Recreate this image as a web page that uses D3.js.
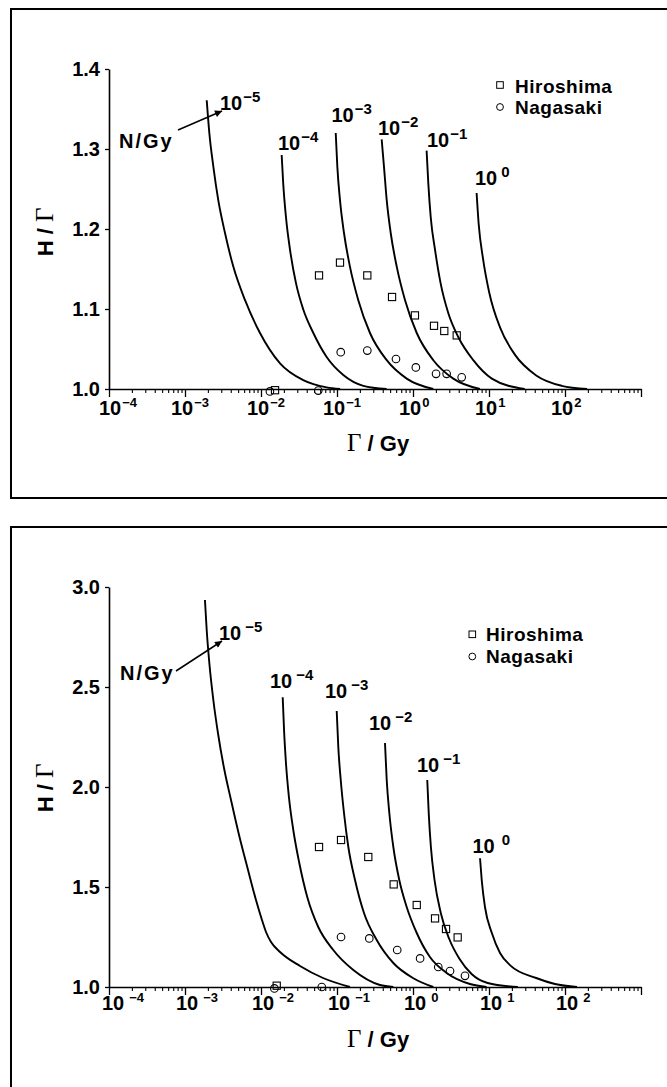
<!DOCTYPE html>
<html>
<head>
<meta charset="utf-8">
<script src="https://cdn.jsdelivr.net/npm/d3@7"></script>
<style>
  body { margin: 0; background: #fff; }
  svg text { font-family: "Liberation Sans", Arial, Helvetica, sans-serif; font-weight: bold; fill: #000; }
  .serif { font-family: "Liberation Serif", "Times New Roman", serif; font-weight: normal; }
</style>
</head>
<body>
<div id="chart"></div>
<script>
// decades shown on the gamma dose axis
let xTickExps = [-4, -3, -2, -1, 0, 1, 2];
let xAxisExps = [-4, -3, -2, -1, 0, 1, 2, 3];
// neutron dose of each curve, N / Gy = 10^exp
let curveExps = [-5, -4, -3, -2, -1, 0];

// ---- upper panel ----
let topYTicks = [1.0, 1.1, 1.2, 1.3, 1.4];
// [gamma dose Gy, H/Gamma]
let topN5 = [[0.00193,1.361],[0.00209,1.320],[0.00236,1.278],[0.00274,1.236],[0.00336,1.195],[0.00432,1.153],[0.00617,1.111],[0.0097,1.070],[0.0178,1.032],[0.036,1.011],[0.073,1.002],[0.11,1.0]];
let topN4 = [[0.0187,1.2925],[0.0196,1.257],[0.0213,1.215],[0.0241,1.174],[0.0289,1.132],[0.0361,1.099],[0.0488,1.070],[0.0731,1.040],[0.121,1.0175],[0.222,1.004],[0.45,1.0]];
let topN3 = [[0.0962,1.320],[0.101,1.278],[0.1095,1.236],[0.1236,1.195],[0.148,1.153],[0.1906,1.111],[0.2716,1.070],[0.451,1.036],[0.826,1.013],[1.85,1.0]];
let topN2 = [[0.387,1.312],[0.415,1.278],[0.451,1.236],[0.509,1.195],[0.611,1.153],[0.786,1.111],[1.12,1.070],[1.85,1.036],[3.39,1.013],[7.6,1.0]];
let topN1 = [[1.51,1.298],[1.59,1.257],[1.71,1.215],[1.95,1.174],[2.31,1.132],[2.91,1.095],[3.94,1.065],[6.21,1.036],[10.9,1.013],[29.5,1.0]];
let topN0 = [[6.87,1.245],[7.31,1.2065],[8.34,1.163],[10.1,1.120],[13.96,1.077],[21.9,1.043],[41.8,1.017],[90.6,1.004],[195,1.0]];
let topHiroshima = [[0.0153,0.9985],[0.058,1.142],[0.1095,1.158],[0.2505,1.142],[0.53,1.115],[1.06,1.092],[1.89,1.079],[2.58,1.0725],[3.76,1.067]];
let topNagasaki = [[0.0131,0.997],[0.0567,0.998],[0.112,1.046],[0.2505,1.048],[0.597,1.0375],[1.09,1.027],[2.01,1.019],[2.77,1.019],[4.37,1.0146]];

// ---- lower panel ----
let botYTicks = [1.0, 1.5, 2.0, 2.5, 3.0];
let botN5 = [[0.00183,2.935],[0.00193,2.785],[0.00209,2.62],[0.00236,2.435],[0.00274,2.26],[0.00326,2.095],[0.00403,1.935],[0.00514,1.76],[0.00675,1.585],[0.00859,1.435],[0.0103,1.335],[0.01164,1.275],[0.01355,1.225],[0.0178,1.175],[0.0326,1.105],[0.0655,1.045],[0.148,1.0]];
let botN4 = [[0.0193,2.449],[0.0201,2.285],[0.0213,2.12],[0.0233,1.95],[0.0266,1.785],[0.0319,1.62],[0.0406,1.45],[0.0567,1.30],[0.0893,1.185],[0.164,1.085],[0.368,1.01],[0.551,1.0]];
let botN3 = [[0.0991,2.38],[0.104,2.20],[0.112,2.035],[0.1236,1.87],[0.141,1.70],[0.1726,1.535],[0.2265,1.37],[0.333,1.235],[0.551,1.12],[1.01,1.044],[1.85,1.0]];
let botN2 = [[0.428,2.22],[0.451,2.035],[0.488,1.87],[0.551,1.70],[0.66,1.535],[0.826,1.40],[1.12,1.27],[1.67,1.15],[2.77,1.07],[5.62,1.015],[9.3,1.0]];
let botN1 = [[1.54,2.035],[1.61,1.87],[1.72,1.70],[1.92,1.535],[2.32,1.37],[3.0,1.24],[4.1,1.14],[5.9,1.065],[9.6,1.02],[24,1.0]];
let botN0 = [[7.62,1.644],[8.02,1.535],[8.85,1.40],[10.9,1.27],[13.96,1.17],[19.2,1.107],[41.8,1.045],[73.8,1.015],[144,1.0]];
let botHiroshima = [[0.0161,1.0065],[0.058,1.70],[0.113,1.735],[0.258,1.65],[0.557,1.513],[1.12,1.41],[1.95,1.343],[2.72,1.29],[3.87,1.248]];
let botNagasaki = [[0.015,0.993],[0.063,1.0],[0.113,1.25],[0.266,1.243],[0.62,1.185],[1.24,1.143],[2.15,1.10],[3.07,1.08],[4.83,1.056]];

let legendNames = ['Hiroshima', 'Nagasaki'];

let width = 667, height = 1087;

let svg = d3.select('#chart').append('svg')
    .attr('width', width)
    .attr('height', height);

// arrow head for the N/Gy pointer
svg.append('defs').append('marker')
    .attr('id', 'arrow')
    .attr('viewBox', '0 0 10 10')
    .attr('refX', 10)
    .attr('refY', 5)
    .attr('markerUnits', 'userSpaceOnUse')
    .attr('markerWidth', 9)
    .attr('markerHeight', 7)
    .attr('orient', 'auto')
    .append('path')
    .attr('d', 'M0,0L10,5L0,10z')
    .attr('fill', '#000');

// "10" with a raised exponent
function supText(g, x, y, exp, gap, supSize) {
    let t = g.append('text').attr('x', x).attr('y', y).attr('font-size', 20);
    t.append('tspan').text('10');
    t.append('tspan')
        .attr('dx', gap)
        .attr('dy', -8)
        .attr('font-size', supSize)
        .text(exp < 0 ? '\u2212' + (-exp) : exp);
    return t;
}

function drawPanel(p) {
    let g = svg.append('g');

    let x = d3.scaleLog().domain([1e-4, 1e3]).range([109, 641]);
    let y = d3.scaleLinear().domain(p.yDomain).range(p.yRange);
    let y0 = y(p.yDomain[0]);

    // frame (right side runs off the page)
    g.append('rect')
        .attr('x', 11)
        .attr('y', p.frameTop)
        .attr('width', 720)
        .attr('height', p.frameHeight)
        .attr('fill', 'none')
        .attr('stroke', '#000')
        .attr('stroke-width', 2);

    // minor x ticks
    let minor = [];
    xAxisExps.slice(0, -1).forEach(function (e) {
        for (let m = 2; m < 10; m++) minor.push(m * Math.pow(10, e));
    });
    let minorAxis = g.append('g')
        .attr('transform', `translate(0,${y0})`)
        .call(d3.axisBottom(x).tickValues(minor).tickSize(4).tickFormat(''));
    minorAxis.select('.domain').remove();
    minorAxis.selectAll('.tick line').attr('stroke-width', 1.1);

    // major x ticks + axis line
    let majorAxis = g.append('g')
        .attr('transform', `translate(0,${y0})`)
        .call(d3.axisBottom(x)
            .tickValues(xAxisExps.map(e => Math.pow(10, e)))
            .tickSize(8)
            .tickSizeOuter(0)
            .tickFormat(''));
    majorAxis.select('.domain').attr('stroke-width', 1.6);
    majorAxis.selectAll('.tick line').attr('stroke-width', 1.3);

    // x tick labels 10^n
    xTickExps.forEach(function (e, i) {
        let shift = i === 0 ? p.xLblShift0 : p.xLblShift;
        supText(g, x(Math.pow(10, e)) + shift, y0 + p.xLblDy, e, p.xSupGap, 13);
    });

    // y axis
    let yAxis = g.append('g')
        .attr('transform', 'translate(109,0)')
        .call(d3.axisLeft(y)
            .tickValues(p.yTicks)
            .tickSize(4)
            .tickSizeOuter(0)
            .tickPadding(5)
            .tickFormat(d3.format('.1f')));
    yAxis.attr('font-family', null).attr('font-size', null);
    yAxis.selectAll('text').attr('font-size', 20);
    yAxis.select('.domain').attr('stroke-width', 1.6);
    yAxis.selectAll('.tick line').attr('stroke-width', 1.3);

    // axis titles
    let xt = g.append('text')
        .attr('x', 347)
        .attr('y', y0 + p.xTitleDy)
        .attr('font-size', 22);
    xt.append('tspan').attr('class', 'serif').attr('font-size', 25).text('Γ');
    xt.append('tspan').text(' / Gy');

    let yt = g.append('text')
        .attr('transform', `translate(53,${p.yTitleY}) rotate(-90)`)
        .attr('text-anchor', 'middle')
        .attr('font-size', 22);
    yt.append('tspan').text('H / ');
    yt.append('tspan').attr('class', 'serif').attr('font-size', 25).text('Γ');

    // curves
    let line = d3.line()
        .x(d => x(d[0]))
        .y(d => y(d[1]))
        .curve(d3.curveMonotoneX);

    g.selectAll('.curve')
        .data(p.curves)
        .enter().append('path')
        .attr('class', 'curve')
        .attr('d', line)
        .attr('fill', 'none')
        .attr('stroke', '#000')
        .attr('stroke-width', 1.9);

    // curve labels
    curveExps.forEach(function (e, i) {
        let pos = p.curveLabelPos[i];
        supText(g, pos[0], pos[1], e, e === 0 ? p.zeroGap : p.supGap, 15);
    });

    // N/Gy pointer
    g.append('text')
        .attr('x', p.nGy[0])
        .attr('y', p.nGy[1])
        .attr('font-size', 20)
        .attr('letter-spacing', 2)
        .text('N/Gy');
    g.append('line')
        .attr('x1', p.arrow[0])
        .attr('y1', p.arrow[1])
        .attr('x2', p.arrow[2])
        .attr('y2', p.arrow[3])
        .attr('stroke', '#000')
        .attr('stroke-width', 1.5)
        .attr('marker-end', 'url(#arrow)');

    // data points
    g.selectAll('.sq')
        .data(p.hiroshima)
        .enter().append('rect')
        .attr('class', 'sq')
        .attr('x', d => x(d[0]) - 3.6)
        .attr('y', d => y(d[1]) - 3.6)
        .attr('width', 7.2)
        .attr('height', 7.2)
        .attr('fill', 'none')
        .attr('stroke', '#000')
        .attr('stroke-width', 1.1);

    g.selectAll('.ci')
        .data(p.nagasaki)
        .enter().append('circle')
        .attr('class', 'ci')
        .attr('cx', d => x(d[0]))
        .attr('cy', d => y(d[1]))
        .attr('r', 3.8)
        .attr('fill', 'none')
        .attr('stroke', '#000')
        .attr('stroke-width', 1.1);

    // legend
    let lg = p.legend;
    g.append('rect')
        .attr('x', lg.x - 3.3).attr('y', lg.rows[0] - 3.3)
        .attr('width', 6.6).attr('height', 6.6)
        .attr('fill', 'none').attr('stroke', '#000').attr('stroke-width', 1);
    g.append('circle')
        .attr('cx', lg.x).attr('cy', lg.rows[1]).attr('r', 3.4)
        .attr('fill', 'none').attr('stroke', '#000').attr('stroke-width', 1);
    legendNames.forEach(function (name, i) {
        g.append('text')
            .attr('x', lg.textX)
            .attr('y', lg.base[i])
            .attr('font-size', 19)
            .attr('letter-spacing', 0.5)
            .text(name);
    });
}

drawPanel({
    frameTop: 9, frameHeight: 489,
    yDomain: [1.0, 1.4], yRange: [389, 69], yTicks: topYTicks,
    curves: [topN5, topN4, topN3, topN2, topN1, topN0],
    hiroshima: topHiroshima, nagasaki: topNagasaki,
    xLblShift0: -10, xLblShift: -14, xLblDy: 26, xSupGap: 1,
    xTitleDy: 62, yTitleY: 232,
    curveLabelPos: [[220, 110], [278, 150], [331.5, 122], [378, 135], [427, 146.7], [475, 185]],
    supGap: 1, zeroGap: 4,
    nGy: [119, 148], arrow: [178, 130, 222, 111],
    legend: {x: 500, rows: [85, 107], textX: 515, base: [92.5, 114]}
});

drawPanel({
    frameTop: 527, frameHeight: 600,
    yDomain: [1.0, 3.0], yRange: [987, 587], yTicks: botYTicks,
    curves: [botN5, botN4, botN3, botN2, botN1, botN0],
    hiroshima: botHiroshima, nagasaki: botNagasaki,
    xLblShift0: -7, xLblShift: -9, xLblDy: 23, xSupGap: 5,
    xTitleDy: 60, yTitleY: 788,
    curveLabelPos: [[219, 640], [270, 688], [325, 698], [369, 730], [417, 771.5], [472.5, 853]],
    supGap: 4, zeroGap: 7,
    nGy: [120, 680], arrow: [176, 671, 222, 641],
    legend: {x: 472.3, rows: [634.3, 656.5], textX: 486, base: [641, 662.5]}
});
</script>
</body>
</html>
